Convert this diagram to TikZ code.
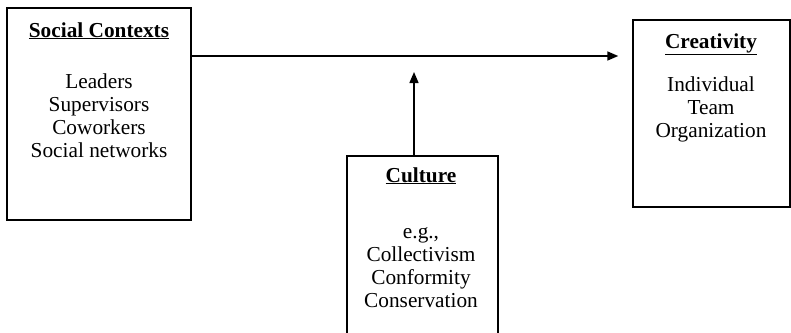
\documentclass[tikz,border=0pt]{standalone}
\usepackage{fontspec}
\setmainfont{Liberation Serif}
\usetikzlibrary{arrows.meta}
\tikzset{
  box/.style={draw, line width=1.4pt, rectangle, inner sep=0pt},
  title/.style={anchor=base, inner sep=0pt, font=\fontsize{21.3}{22.8}\selectfont\bfseries},
  items/.style={anchor=base, inner sep=0pt, align=center, font=\fontsize{21.3}{22.8}\selectfont},
  conn/.style={line width=1.4pt, -{Triangle[length=11pt,width=9pt]}}
}
\begin{document}
\begin{tikzpicture}[x=1pt,y=-1pt]
\useasboundingbox (0,0) rectangle (791,332);
\clip (0,0) rectangle (791,332);
% boxes
\node[box, minimum width=184pt, minimum height=212pt] (soc) at (99,114) {};
\node[box, minimum width=157pt, minimum height=187pt] (cre) at (711.5,113.5) {};
\node[box, minimum width=151pt, minimum height=189pt] (cul) at (422.5,250.5) {};
% texts (base anchor = baseline of the last line)
\node[title] (soct) at (99,37) {\underline{Social Contexts}};
\node[items] (soci) at (99,157) {Leaders\\Supervisors\\Coworkers\\Social networks};
\node[title] (cret) at (711,48) {\underline{Creativity}};
\node[items] (crei) at (711,137) {Individual\\Team\\Organization};
\node[title] (cult) at (421,182) {\underline{Culture}};
\node[items] (culi) at (421,307) {e.g.,\\Collectivism\\Conformity\\Conservation};
% connectors
\coordinate (hy) at (0,56);
\coordinate (vx) at (414,0);
\coordinate (tip) at (414,72);
\draw[conn] (soc.east |- hy) -- ([xshift=-14pt]cre.west |- hy);
\draw[conn] (cul.north -| vx) -- (tip);
\end{tikzpicture}
\end{document}
